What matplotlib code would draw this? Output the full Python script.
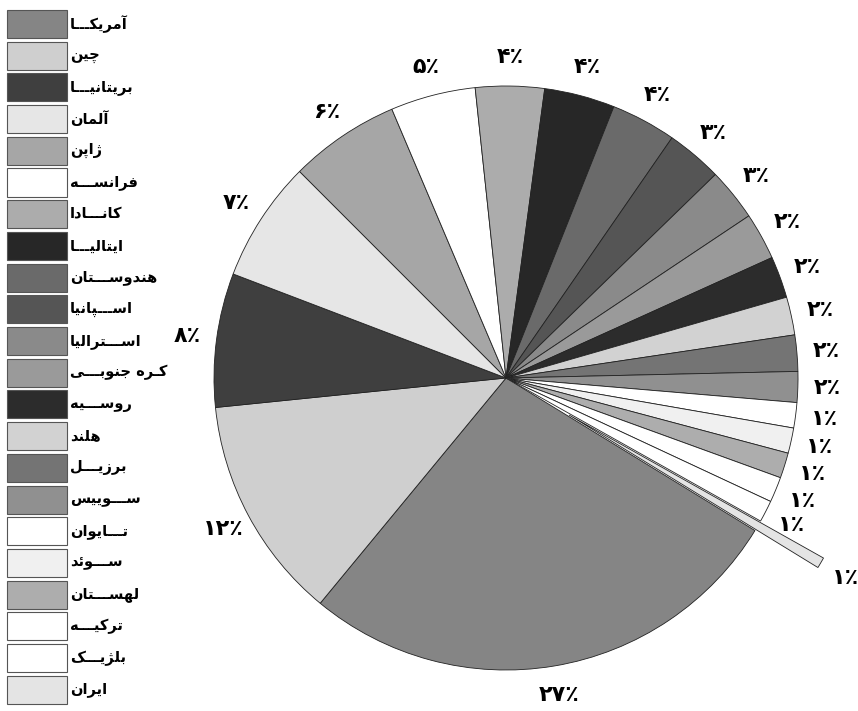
import numpy as np
from matplotlib import pyplot as plt
import matplotlib as mpl

plt.rcParams['font.family'] = ['DejaVu Sans']

#datos
paises = ['آمریکـــا', 'چین', 'بریتانیـــا', 'آلمان', 'ژاپن', 'فرانســـه',
        'کانـــادا', 'ایتالیـــا', 'هندوســـتان', 'اســـپانیا', 'اســـترالیا',
        'کـره جنوبـــی', 'روســـیه', 'هلند', 'برزیـــل', 'ســـوییس',
        'تـــایوان', 'ســـوئد', 'لهســـتان', 'ترکیـــه', 'بلژیـــک', 'ایران']
shares = [27.2, 12.4, 7.4, 6.7, 6.1, 4.7, 3.8, 3.9, 3.6, 3.1, 2.9,
        2.6, 2.3, 2.1, 2.0, 1.7, 1.4, 1.4, 1.4, 1.4, 1.2, 0.6]
etiquetas = ['۲۷٪', '۱۲٪', '۸٪', '۷٪', '۶٪', '۵٪', '۴٪', '۴٪', '۴٪', '۳٪', '۳٪',
        '۲٪', '۲٪', '۲٪', '۲٪', '۲٪', '۱٪', '۱٪', '۱٪', '۱٪', '۱٪', '۱٪']
grises = ['#858585', '#cfcfcf', '#3f3f3f', '#e6e6e6', '#a6a6a6', '#ffffff',
        '#acacac', '#272727', '#6a6a6a', '#555555', '#8a8a8a', '#9a9a9a',
        '#2c2c2c', '#d2d2d2', '#747474', '#909090', '#ffffff', '#f0f0f0',
        '#adadad', '#ffffff', '#ffffff', '#e4e4e4']
explotar = [0]*21 + [0.25]

#formas de presentacion (aislada, final, inicial, media)
formas = {
    'ا': ('\uFE8D', '\uFE8E', None, None),
    'آ': ('\uFE81', '\uFE82', None, None),
    'ب': ('\uFE8F', '\uFE90', '\uFE91', '\uFE92'),
    'پ': ('\uFB56', '\uFB57', '\uFB58', '\uFB59'),
    'ت': ('\uFE95', '\uFE96', '\uFE97', '\uFE98'),
    'ج': ('\uFE9D', '\uFE9E', '\uFE9F', '\uFEA0'),
    'چ': ('\uFB7A', '\uFB7B', '\uFB7C', '\uFB7D'),
    'د': ('\uFEA9', '\uFEAA', None, None),
    'ر': ('\uFEAD', '\uFEAE', None, None),
    'ز': ('\uFEAF', '\uFEB0', None, None),
    'ژ': ('\uFB8A', '\uFB8B', None, None),
    'س': ('\uFEB1', '\uFEB2', '\uFEB3', '\uFEB4'),
    'ف': ('\uFED1', '\uFED2', '\uFED3', '\uFED4'),
    'ک': ('\uFB8E', '\uFB8F', '\uFB90', '\uFB91'),
    'ل': ('\uFEDD', '\uFEDE', '\uFEDF', '\uFEE0'),
    'م': ('\uFEE1', '\uFEE2', '\uFEE3', '\uFEE4'),
    'ن': ('\uFEE5', '\uFEE6', '\uFEE7', '\uFEE8'),
    'ه': ('\uFEE9', '\uFEEA', '\uFEEB', '\uFEEC'),
    'و': ('\uFEED', '\uFEEE', None, None),
    'ی': ('\uFBFC', '\uFBFD', '\uFBFE', '\uFBFF'),
    'ئ': ('\uFE89', '\uFE8A', '\uFE8B', '\uFE8C'),
    'ـ': ('ـ', 'ـ', 'ـ', 'ـ'),
}

def forma(palabra):
    out = []
    n = len(palabra)
    for i, ch in enumerate(palabra):
        f = formas.get(ch)
        if f is None:
            out.append(ch)
            continue
        prev = palabra[i-1] if i > 0 else ''
        nxt = palabra[i+1] if i < n-1 else ''
        jp = prev in formas and formas[prev][2] is not None
        jn = f[2] is not None and nxt in formas
        if jp and jn:
            out.append(f[3])
        elif jp:
            out.append(f[1])
        elif jn:
            out.append(f[2])
        else:
            out.append(f[0])
    return ''.join(out[::-1])

W, H = 858, 711
fig = plt.figure(figsize=(W/100, H/100), dpi=100)

#centro y radio del pastel en pixeles
cx, cy, r = 506, 378, 292
L = 1.45
lado = 2*L*r
ax = fig.add_axes([(cx-lado/2)/W, (H-cy-lado/2)/H, lado/W, lado/H])
wedges, textos = ax.pie(shares,
        labels=etiquetas,
        colors=grises,
        explode=explotar,
        startangle=-31.5,
        counterclock=False,
        labeldistance=1.1,
        wedgeprops=dict(edgecolor='#222222', linewidth=0.6),
        textprops=dict(fontsize=16, fontweight='bold'),
        )
for t in textos:
    t.set_ha('center')
    t.set_va('center')
ax.set_xlim(-L, L)
ax.set_ylim(-L, L)
ax.set_aspect('equal')
ax.axis('off')

#leyenda a mano: cajas de 60x28 px, paso de 31.7 px
paso = 31.7
for i, (p, c) in enumerate(zip(paises, grises)):
    y0 = 10 + i*paso
    fig.patches.append(mpl.patches.Rectangle((7/W, 1-(y0+28)/H), 60/W, 28/H,
            transform=fig.transFigure, facecolor=c,
            edgecolor='#555555', linewidth=0.8))
    fig.text(70/W, 1-(y0+14)/H, forma(p),
            ha='left', va='center', fontsize=10.5, fontweight='bold')

plt.savefig('out.png', dpi=100)
